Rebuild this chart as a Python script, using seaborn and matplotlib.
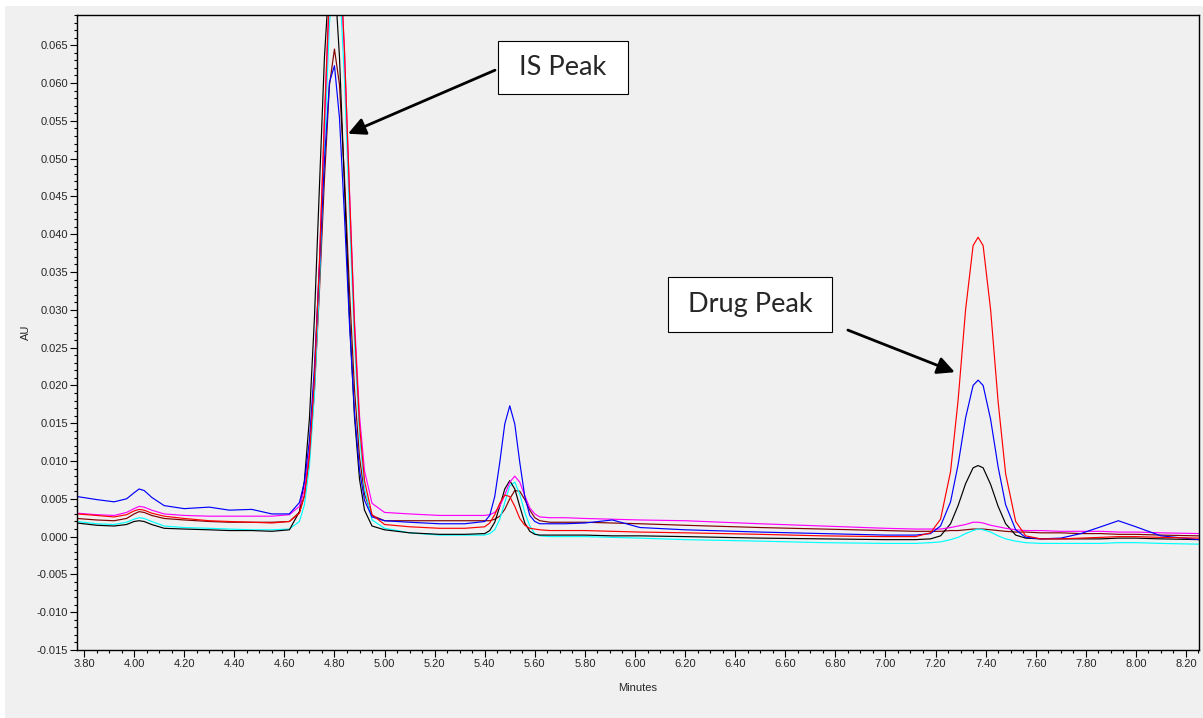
import pandas as pd
import matplotlib
matplotlib.use('Agg')
import matplotlib.pyplot as plt
from matplotlib.patches import Rectangle
from matplotlib.ticker import MultipleLocator, FormatStrFormatter
import seaborn as sns

# retention time grid (minutes), shared by all traces
minutes = [3.772, 3.85, 3.92, 3.97, 4.00, 4.02, 4.04, 4.07, 4.12, 4.20, 4.30, 4.38, 4.47, 4.55,
           4.62, 4.66, 4.68, 4.70, 4.72, 4.74, 4.76, 4.78, 4.80, 4.82, 4.84, 4.86, 4.88, 4.90, 4.92, 4.95, 5.00,
           5.10, 5.22,
           5.32, 5.40, 5.42, 5.44, 5.46, 5.48, 5.50, 5.52, 5.54, 5.56, 5.58, 5.60, 5.62, 5.66, 5.72,
           5.80, 5.91, 6.02, 6.20, 6.50, 6.75, 7.00,
           7.12, 7.18, 7.22, 7.26, 7.29, 7.32, 7.35, 7.37, 7.39, 7.42, 7.45, 7.48, 7.52, 7.56, 7.62, 7.70,
           7.78, 7.86, 7.93, 8.00, 8.10, 8.252]

# absorbance (AU)
au_blue = [0.0053, 0.0049, 0.0046, 0.0050, 0.0058, 0.0063, 0.0061, 0.0052, 0.0041, 0.0037, 0.0039, 0.0035, 0.0036, 0.0030,
           0.0030, 0.0045, 0.0072, 0.0127, 0.0224, 0.0356, 0.0497, 0.0601, 0.0623, 0.0554, 0.0424, 0.0281, 0.0164, 0.0088, 0.0048, 0.0026, 0.0021,
           0.0019, 0.0017,
           0.0017, 0.0020, 0.0028, 0.0053, 0.0098, 0.0149, 0.0173, 0.0149, 0.0098, 0.0053, 0.0028, 0.0020, 0.0017, 0.0017, 0.0017,
           0.0018, 0.0022, 0.0012, 0.0009, 0.0006, 0.0004, 0.0002,
           0.0002, 0.0004, 0.0014, 0.0046, 0.0095, 0.0157, 0.0200, 0.0207, 0.0200, 0.0155, 0.0092, 0.0042, 0.0009, -0.0001, -0.0003, -0.0002,
           0.0004, 0.0013, 0.0021, 0.0013, 0.0001, -0.0004]

au_red = [0.0030, 0.0028, 0.0026, 0.0029, 0.0034, 0.0036, 0.0035, 0.0031, 0.0027, 0.0024, 0.0021, 0.0020, 0.0019, 0.0018,
          0.0020, 0.0031, 0.0054, 0.0107, 0.0208, 0.0363, 0.0553, 0.0724, 0.0814, 0.0782, 0.0643, 0.0454, 0.0277, 0.0148, 0.0074, 0.0029, 0.0016,
          0.0013, 0.0011,
          0.0011, 0.0013, 0.0018, 0.0029, 0.0044, 0.0055, 0.0053, 0.0040, 0.0024, 0.0015, 0.0011, 0.0010, 0.0009, 0.0008, 0.0008,
          0.0008, 0.0007, 0.0006, 0.0005, 0.0003, 0.0001, 0.0000,
          0.0000, 0.0005, 0.0023, 0.0086, 0.0180, 0.0300, 0.0385, 0.0396, 0.0385, 0.0300, 0.0178, 0.0083, 0.0020, 0.0001, -0.0003, -0.0003,
          -0.0002, -0.0001, 0.0000, 0.0000, -0.0001, -0.0002]

au_magenta = [0.0031, 0.0029, 0.0028, 0.0032, 0.0037, 0.0040, 0.0039, 0.0035, 0.0030, 0.0028, 0.0027, 0.0027, 0.0027, 0.0027,
              0.0029, 0.0040, 0.0062, 0.0114, 0.0212, 0.0363, 0.0549, 0.0717, 0.0805, 0.0776, 0.0642, 0.0457, 0.0286, 0.0160, 0.0087, 0.0044, 0.0032,
              0.0030, 0.0028,
              0.0028, 0.0028, 0.0029, 0.0032, 0.0040, 0.0055, 0.0072, 0.0080, 0.0072, 0.0054, 0.0038, 0.0030, 0.0026, 0.0025, 0.0025,
              0.0024, 0.0023, 0.0022, 0.0021, 0.0017, 0.0014, 0.0011,
              0.0010, 0.0010, 0.0010, 0.0012, 0.0014, 0.0016, 0.0019, 0.0019, 0.0018, 0.0015, 0.0013, 0.0011, 0.0009, 0.0008, 0.0008, 0.0007,
              0.0007, 0.0007, 0.0006, 0.0006, 0.0005, 0.0004]

au_cyan = [0.0020, 0.0017, 0.0016, 0.0019, 0.0023, 0.0025, 0.0024, 0.0020, 0.0014, 0.0012, 0.0011, 0.0010, 0.0009, 0.0009,
           0.0010, 0.0020, 0.0042, 0.0093, 0.0188, 0.0336, 0.0516, 0.0679, 0.0765, 0.0737, 0.0605, 0.0425, 0.0257, 0.0135, 0.0064, 0.0022, 0.0011,
           0.0005, 0.0002,
           0.0002, 0.0002, 0.0004, 0.0009, 0.0023, 0.0045, 0.0067, 0.0072, 0.0056, 0.0032, 0.0014, 0.0004, 0.0001, 0.0000, 0.0000,
           0.0000, -0.0001, -0.0002, -0.0004, -0.0006, -0.0008, -0.0009,
           -0.0009, -0.0008, -0.0007, -0.0004, -0.0001, 0.0004, 0.0008, 0.0010, 0.0009, 0.0006, 0.0001, -0.0003, -0.0006, -0.0008, -0.0009, -0.0009,
           -0.0009, -0.0009, -0.0008, -0.0008, -0.0009, -0.0010]

au_black = [0.0018, 0.0015, 0.0014, 0.0016, 0.0020, 0.0021, 0.0020, 0.0016, 0.0011, 0.0010, 0.0009, 0.0008, 0.0008, 0.0007,
            0.0009, 0.0033, 0.0074, 0.0156, 0.0289, 0.0463, 0.0634, 0.0743, 0.0744, 0.0635, 0.0464, 0.0290, 0.0158, 0.0076, 0.0035, 0.0014, 0.0009,
            0.0005, 0.0003,
            0.0003, 0.0004, 0.0008, 0.0019, 0.0040, 0.0063, 0.0074, 0.0063, 0.0040, 0.0018, 0.0007, 0.0003, 0.0002, 0.0002, 0.0002,
            0.0002, 0.0001, 0.0001, 0.0000, -0.0002, -0.0003, -0.0004,
            -0.0004, -0.0003, 0.0001, 0.0017, 0.0041, 0.0070, 0.0091, 0.0094, 0.0091, 0.0069, 0.0040, 0.0017, 0.0002, -0.0002, -0.0003, -0.0003,
            -0.0003, -0.0003, -0.0002, -0.0002, -0.0003, -0.0004]

au_brown = [0.0024, 0.0022, 0.0021, 0.0024, 0.0030, 0.0033, 0.0032, 0.0028, 0.0024, 0.0022, 0.0020, 0.0019, 0.0019, 0.0019,
            0.0020, 0.0032, 0.0054, 0.0104, 0.0193, 0.0324, 0.0473, 0.0597, 0.0645, 0.0598, 0.0475, 0.0326, 0.0195, 0.0105, 0.0056, 0.0028, 0.0021,
            0.0021, 0.0021,
            0.0021, 0.0021, 0.0021, 0.0023, 0.0027, 0.0036, 0.0050, 0.0061, 0.0060, 0.0049, 0.0035, 0.0025, 0.0021, 0.0019, 0.0019,
            0.0019, 0.0018, 0.0017, 0.0015, 0.0012, 0.0010, 0.0008,
            0.0007, 0.0007, 0.0007, 0.0008, 0.0008, 0.0009, 0.0010, 0.0010, 0.0010, 0.0009, 0.0008, 0.0007, 0.0006, 0.0006, 0.0005, 0.0005,
            0.0004, 0.0004, 0.0003, 0.0003, 0.0002, 0.0001]

trace_colors = {'brown': '#800000', 'cyan': '#00ffff', 'black': '#000000',
                'magenta': '#ff00ff', 'blue': '#0000ff', 'red': '#ff0000'}
traces = {'brown': au_brown, 'cyan': au_cyan, 'black': au_black,
          'magenta': au_magenta, 'blue': au_blue, 'red': au_red}

df = pd.concat([pd.DataFrame({'Minutes': minutes, 'AU': vals, 'trace': name})
                for name, vals in traces.items()], ignore_index=True)

sns.set_style('ticks')
plt.rcParams['font.family'] = ['Liberation Sans Narrow', 'Liberation Sans', 'DejaVu Sans']

fig = plt.figure(figsize=(12.03, 7.18), dpi=100, facecolor='white')
# grey panel behind the chart (thin white margin top/left like the screenshot)
fig.patches.append(Rectangle((5 / 1203, 0), 1, (718 - 6) / 718, transform=fig.transFigure,
                             facecolor='#f0f0f0', edgecolor='none', zorder=-10))
ax = fig.add_axes([77 / 1203, 68 / 718, (1199 - 77) / 1203, (650 - 15) / 718])
ax.set_facecolor('#f0f0f0')

sns.lineplot(data=df, x='Minutes', y='AU', hue='trace', palette=trace_colors,
             estimator=None, sort=False, linewidth=0.85, legend=False, ax=ax)

ax.set_xlim(3.772, 8.252)
ax.set_ylim(-0.015, 0.069)
ax.xaxis.set_major_locator(MultipleLocator(0.2))
ax.xaxis.set_minor_locator(MultipleLocator(0.05))
ax.yaxis.set_major_locator(MultipleLocator(0.005))
ax.yaxis.set_minor_locator(MultipleLocator(0.001))
ax.xaxis.set_major_formatter(FormatStrFormatter('%.2f'))
ax.yaxis.set_major_formatter(FormatStrFormatter('%.3f'))
ax.tick_params(axis='both', which='major', labelsize=8, length=5, width=0.8, color='black', pad=1.5)
ax.tick_params(axis='both', which='minor', length=2.5, width=0.8, color='black')
ax.set_xlabel('Minutes', fontsize=8, labelpad=10)
ax.set_ylabel('AU', fontsize=8)
ax.yaxis.set_label_coords(-0.041, 0.5)
for sp in ax.spines.values():
    sp.set_color('black')
    sp.set_linewidth(1.0)

# callout boxes with arrows
ax.annotate('', xy=(4.854, 0.0533), xytext=(5.441, 0.0617),
            arrowprops=dict(arrowstyle='-|>', color='black', lw=2, mutation_scale=26,
                            shrinkA=0, shrinkB=0))
ax.add_patch(Rectangle((5.453, 0.0585), 5.972 - 5.453, 0.0655 - 0.0585,
                       facecolor='white', edgecolor='black', lw=0.8, zorder=5))
ax.text(5.712, 0.0620, 'IS Peak', ha='center', va='center', fontsize=19.5, family='Lato', zorder=6)

ax.annotate('', xy=(7.277, 0.02175), xytext=(6.850, 0.02732),
            arrowprops=dict(arrowstyle='-|>', color='black', lw=2, mutation_scale=26,
                            shrinkA=0, shrinkB=0))
ax.add_patch(Rectangle((6.131, 0.02706), 6.786 - 6.131, 0.03435 - 0.02706,
                       facecolor='white', edgecolor='black', lw=0.8, zorder=5))
ax.text(6.459, 0.0307, 'Drug Peak', ha='center', va='center', fontsize=19.5, family='Lato', zorder=6)

plt.savefig('out.png', dpi=100, facecolor=fig.get_facecolor())
